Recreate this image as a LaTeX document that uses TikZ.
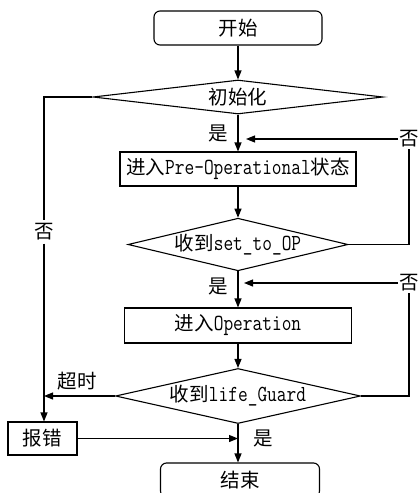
\documentclass[tikz,border=0pt]{standalone}
\usepackage{fontspec}
\setmainfont{Noto Sans CJK SC}
\newfontfamily\latfont[FakeStretch=0.82]{Latin Modern Mono}
\usetikzlibrary{shapes.geometric,arrows.meta}
% Latin part of a label in a narrow monospace
\newcommand{\lat}[1]{{\fontsize{23}{24}\latfont #1}}

\begin{document}
\begin{tikzpicture}[x=1pt,y=-1pt,
  every node/.style={font=\fontsize{19.5}{22}\selectfont},
  base/.style={draw, line width=1.1pt, inner sep=0pt},
  term/.style={base, rounded corners=6pt},
  proc/.style={base, rectangle},
  decision/.style={base, diamond, aspect=4},
  lbl/.style={inner sep=1pt},
  flow/.style={line width=1.1pt, -{Triangle[length=9pt,width=7pt]}},
  wire/.style={line width=1.1pt}]

\useasboundingbox (0,0) rectangle (418,493);

% main column
\node[term, minimum width=168pt, minimum height=34pt] (start) at (238,28) {开始};
\node[decision, minimum width=290pt, minimum height=34pt] (init) at (238,97) {初始化};
\node[proc, minimum width=236pt, minimum height=34pt] (preop) at (238,169) {进入\lat{Pre-Operational}状态};
\node[decision, minimum width=220pt, minimum height=51pt] (setop) at (238,244.5) {收到\lat{set\_to\_OP}};
\node[proc, minimum width=227pt, minimum height=35pt] (oper) at (238,325.5) {进入\lat{Operation}};
\node[decision, minimum width=245pt, minimum height=52pt] (guard) at (238,396) {收到\lat{life\_Guard}};
\node[proc, minimum width=69pt, minimum height=33pt] (err) at (42.5,438.5) {报错};
\node[term, minimum width=159pt, minimum height=34pt] (end) at (240,480) {结束};

% branch labels
\node[lbl] (yes1) at (218,133) {是};
\node[lbl] (yes2) at (218,286) {是};
\node[lbl] (yes3) at (263,438) {是};
\node[lbl] (no1) at (409,139) {否};
\node[lbl] (no2) at (409,283) {否};
\node[lbl, inner sep=3pt] (no3) at (44,232) {否};
\node[lbl] (timeout) at (77,381) {超时};

\coordinate (back1) at (246,139);
\coordinate (back2) at (244,283);

% main flow
\draw[flow] (start.south) -- (init.north);
\draw[flow] (init.south) -- (preop.north);
\draw[flow] (preop.south) -- (setop.north);
\draw[flow] (setop.south) -- (oper.north);
\draw[flow] (oper.south) -- (guard.north);
\draw[flow] (guard.south) -- (guard.south |- end.north);

% retry loops
\draw[wire] (setop.east) -| (no1.south);
\draw[flow] (no1.west) -- (back1);
\draw[wire] (guard.east) -| (no2.south);
\draw[flow] (no2.west) -- (back2);

% error paths
\draw[wire] (init.west) -| (no3.north);
\draw[flow] (no3.south) -- (no3.south |- err.north);
\draw[flow] (guard.west) -- (guard.west -| no3.south);
\draw[flow] (err.east) -- (err.east -| guard.south);

\end{tikzpicture}
\end{document}
